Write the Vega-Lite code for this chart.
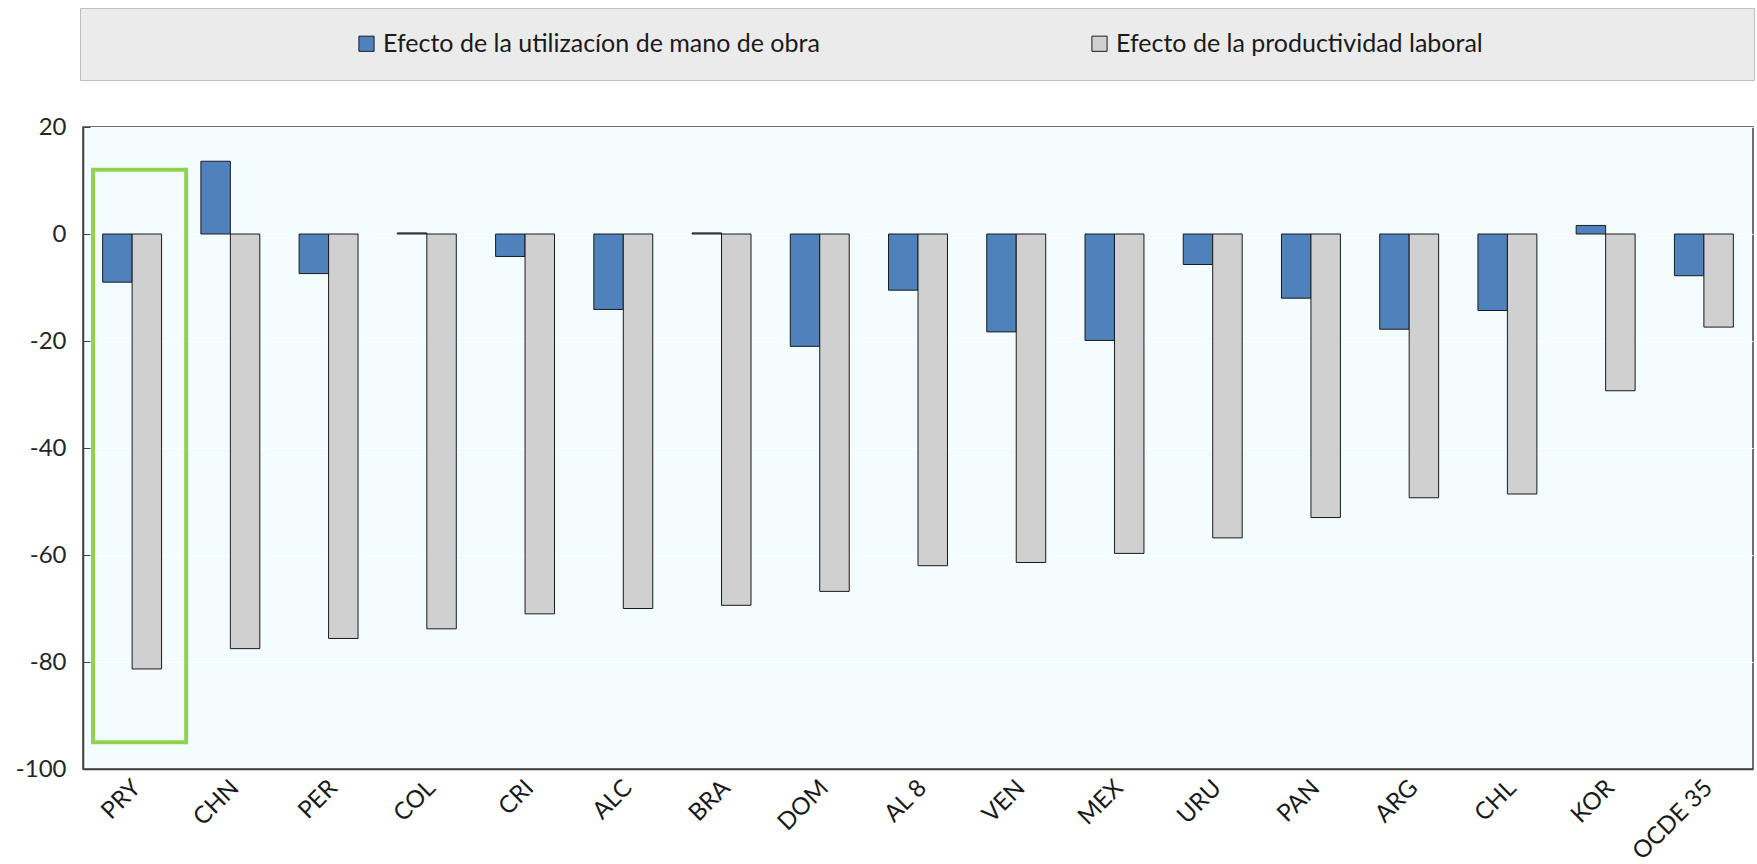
{
  "$schema": "https://vega.github.io/schema/vega-lite/v6.json",
  "width": 1670,
  "height": 642,
  "autosize": {"type": "none"},
  "padding": {"left": 83, "top": 127, "right": 4, "bottom": 95},
  "background": "#FFFFFF",
  "config": {
    "font": "Lato",
    "view": {"fill": "#F4FDFE", "stroke": "#404040", "strokeWidth": 1.5},
    "axis": {"labelFont": "Lato", "labelColor": "#262626", "domainColor": "#404040", "tickColor": "#404040"}
  },
  "datasets": {
    "barras": [
      {"pais": "PRY", "serie": "Efecto de la utilizacíon de mano de obra", "valor": -9.0},
      {"pais": "PRY", "serie": "Efecto de la productividad laboral", "valor": -81.3},
      {"pais": "CHN", "serie": "Efecto de la utilizacíon de mano de obra", "valor": 13.6},
      {"pais": "CHN", "serie": "Efecto de la productividad laboral", "valor": -77.5},
      {"pais": "PER", "serie": "Efecto de la utilizacíon de mano de obra", "valor": -7.4},
      {"pais": "PER", "serie": "Efecto de la productividad laboral", "valor": -75.6},
      {"pais": "COL", "serie": "Efecto de la utilizacíon de mano de obra", "valor": 0.2},
      {"pais": "COL", "serie": "Efecto de la productividad laboral", "valor": -73.8},
      {"pais": "CRI", "serie": "Efecto de la utilizacíon de mano de obra", "valor": -4.2},
      {"pais": "CRI", "serie": "Efecto de la productividad laboral", "valor": -71.0},
      {"pais": "ALC", "serie": "Efecto de la utilizacíon de mano de obra", "valor": -14.1},
      {"pais": "ALC", "serie": "Efecto de la productividad laboral", "valor": -70.0},
      {"pais": "BRA", "serie": "Efecto de la utilizacíon de mano de obra", "valor": 0.2},
      {"pais": "BRA", "serie": "Efecto de la productividad laboral", "valor": -69.4},
      {"pais": "DOM", "serie": "Efecto de la utilizacíon de mano de obra", "valor": -21.0},
      {"pais": "DOM", "serie": "Efecto de la productividad laboral", "valor": -66.8},
      {"pais": "AL 8", "serie": "Efecto de la utilizacíon de mano de obra", "valor": -10.5},
      {"pais": "AL 8", "serie": "Efecto de la productividad laboral", "valor": -62.0},
      {"pais": "VEN", "serie": "Efecto de la utilizacíon de mano de obra", "valor": -18.3},
      {"pais": "VEN", "serie": "Efecto de la productividad laboral", "valor": -61.4},
      {"pais": "MEX", "serie": "Efecto de la utilizacíon de mano de obra", "valor": -19.9},
      {"pais": "MEX", "serie": "Efecto de la productividad laboral", "valor": -59.7},
      {"pais": "URU", "serie": "Efecto de la utilizacíon de mano de obra", "valor": -5.7},
      {"pais": "URU", "serie": "Efecto de la productividad laboral", "valor": -56.8},
      {"pais": "PAN", "serie": "Efecto de la utilizacíon de mano de obra", "valor": -12.0},
      {"pais": "PAN", "serie": "Efecto de la productividad laboral", "valor": -53.0},
      {"pais": "ARG", "serie": "Efecto de la utilizacíon de mano de obra", "valor": -17.8},
      {"pais": "ARG", "serie": "Efecto de la productividad laboral", "valor": -49.3},
      {"pais": "CHL", "serie": "Efecto de la utilizacíon de mano de obra", "valor": -14.3},
      {"pais": "CHL", "serie": "Efecto de la productividad laboral", "valor": -48.6},
      {"pais": "KOR", "serie": "Efecto de la utilizacíon de mano de obra", "valor": 1.6},
      {"pais": "KOR", "serie": "Efecto de la productividad laboral", "valor": -29.3},
      {"pais": "OCDE 35", "serie": "Efecto de la utilizacíon de mano de obra", "valor": -7.8},
      {"pais": "OCDE 35", "serie": "Efecto de la productividad laboral", "valor": -17.4}
    ],
    "destacado": [
      {"pais": "PRY", "arriba": 12, "abajo": -95}
    ]
  },
  "layer": [
    {
      "data": {"name": "barras"},
      "mark": {"type": "bar", "stroke": "#1A1A1A", "strokeWidth": 1},
      "encoding": {
        "x": {
          "field": "pais", "type": "nominal", "sort": null,
          "scale": {"paddingInner": 0.4, "paddingOuter": 0.2},
          "axis": {
            "title": null, "labelAngle": -45, "labelAlign": "right", "labelBaseline": "middle",
            "labelFontSize": 24, "labelColor": "#1A1A1A", "labelPadding": 15, "labelOffset": 5, "ticks": false,
            "domainWidth": 1.5
          }
        },
        "xOffset": {"field": "serie", "type": "nominal", "sort": null},
        "y": {
          "field": "valor", "type": "quantitative",
          "scale": {"domain": [-100, 20], "nice": false},
          "axis": {
            "title": null, "values": [-100, -80, -60, -40, -20, 0, 20], "labelFontSize": 24,
            "labelExpr": "datum.value < 0 ? '-' + abs(datum.value) : '' + datum.value",
            "labelPadding": 24, "tickSize": -7, "grid": true, "gridColor": "#FFFFFF", "domainWidth": 1.5
          }
        },
        "color": {
          "field": "serie", "type": "nominal", "sort": null,
          "scale": {
            "domain": ["Efecto de la utilizacíon de mano de obra", "Efecto de la productividad laboral"],
            "range": ["#4F81BD", "#D0D0D0"]
          },
          "legend": {
            "title": " ", "titleOrient": "right", "titlePadding": 248,
            "orient": "none", "direction": "horizontal",
            "legendX": -3, "legendY": -119,
            "fillColor": "#EBEBEB", "strokeColor": "#BFBFBF", "padding": 23,
            "symbolType": "square", "symbolSize": 230, "symbolStrokeColor": "#1A1A1A", "symbolStrokeWidth": 1,
            "symbolOffset": 251, "labelOffset": 4,
            "labelFontSize": 25, "labelColor": "#1A1A1A", "labelFont": "Lato", "labelLimit": 700,
            "gridAlign": "all", "columnPadding": 16
          }
        }
      }
    },
    {
      "mark": {"type": "rule", "color": "#404040", "strokeWidth": 1.5},
      "encoding": {"y": {"datum": 0}}
    },
    {
      "data": {"name": "destacado"},
      "mark": {"type": "bar", "fillOpacity": 0, "stroke": "#92D050", "strokeWidth": 4, "width": {"band": 1.58}, "xOffset": 7.5},
      "encoding": {
        "x": {"field": "pais", "type": "nominal", "sort": null},
        "y": {"field": "arriba", "type": "quantitative"},
        "y2": {"field": "abajo"}
      }
    }
  ]
}
